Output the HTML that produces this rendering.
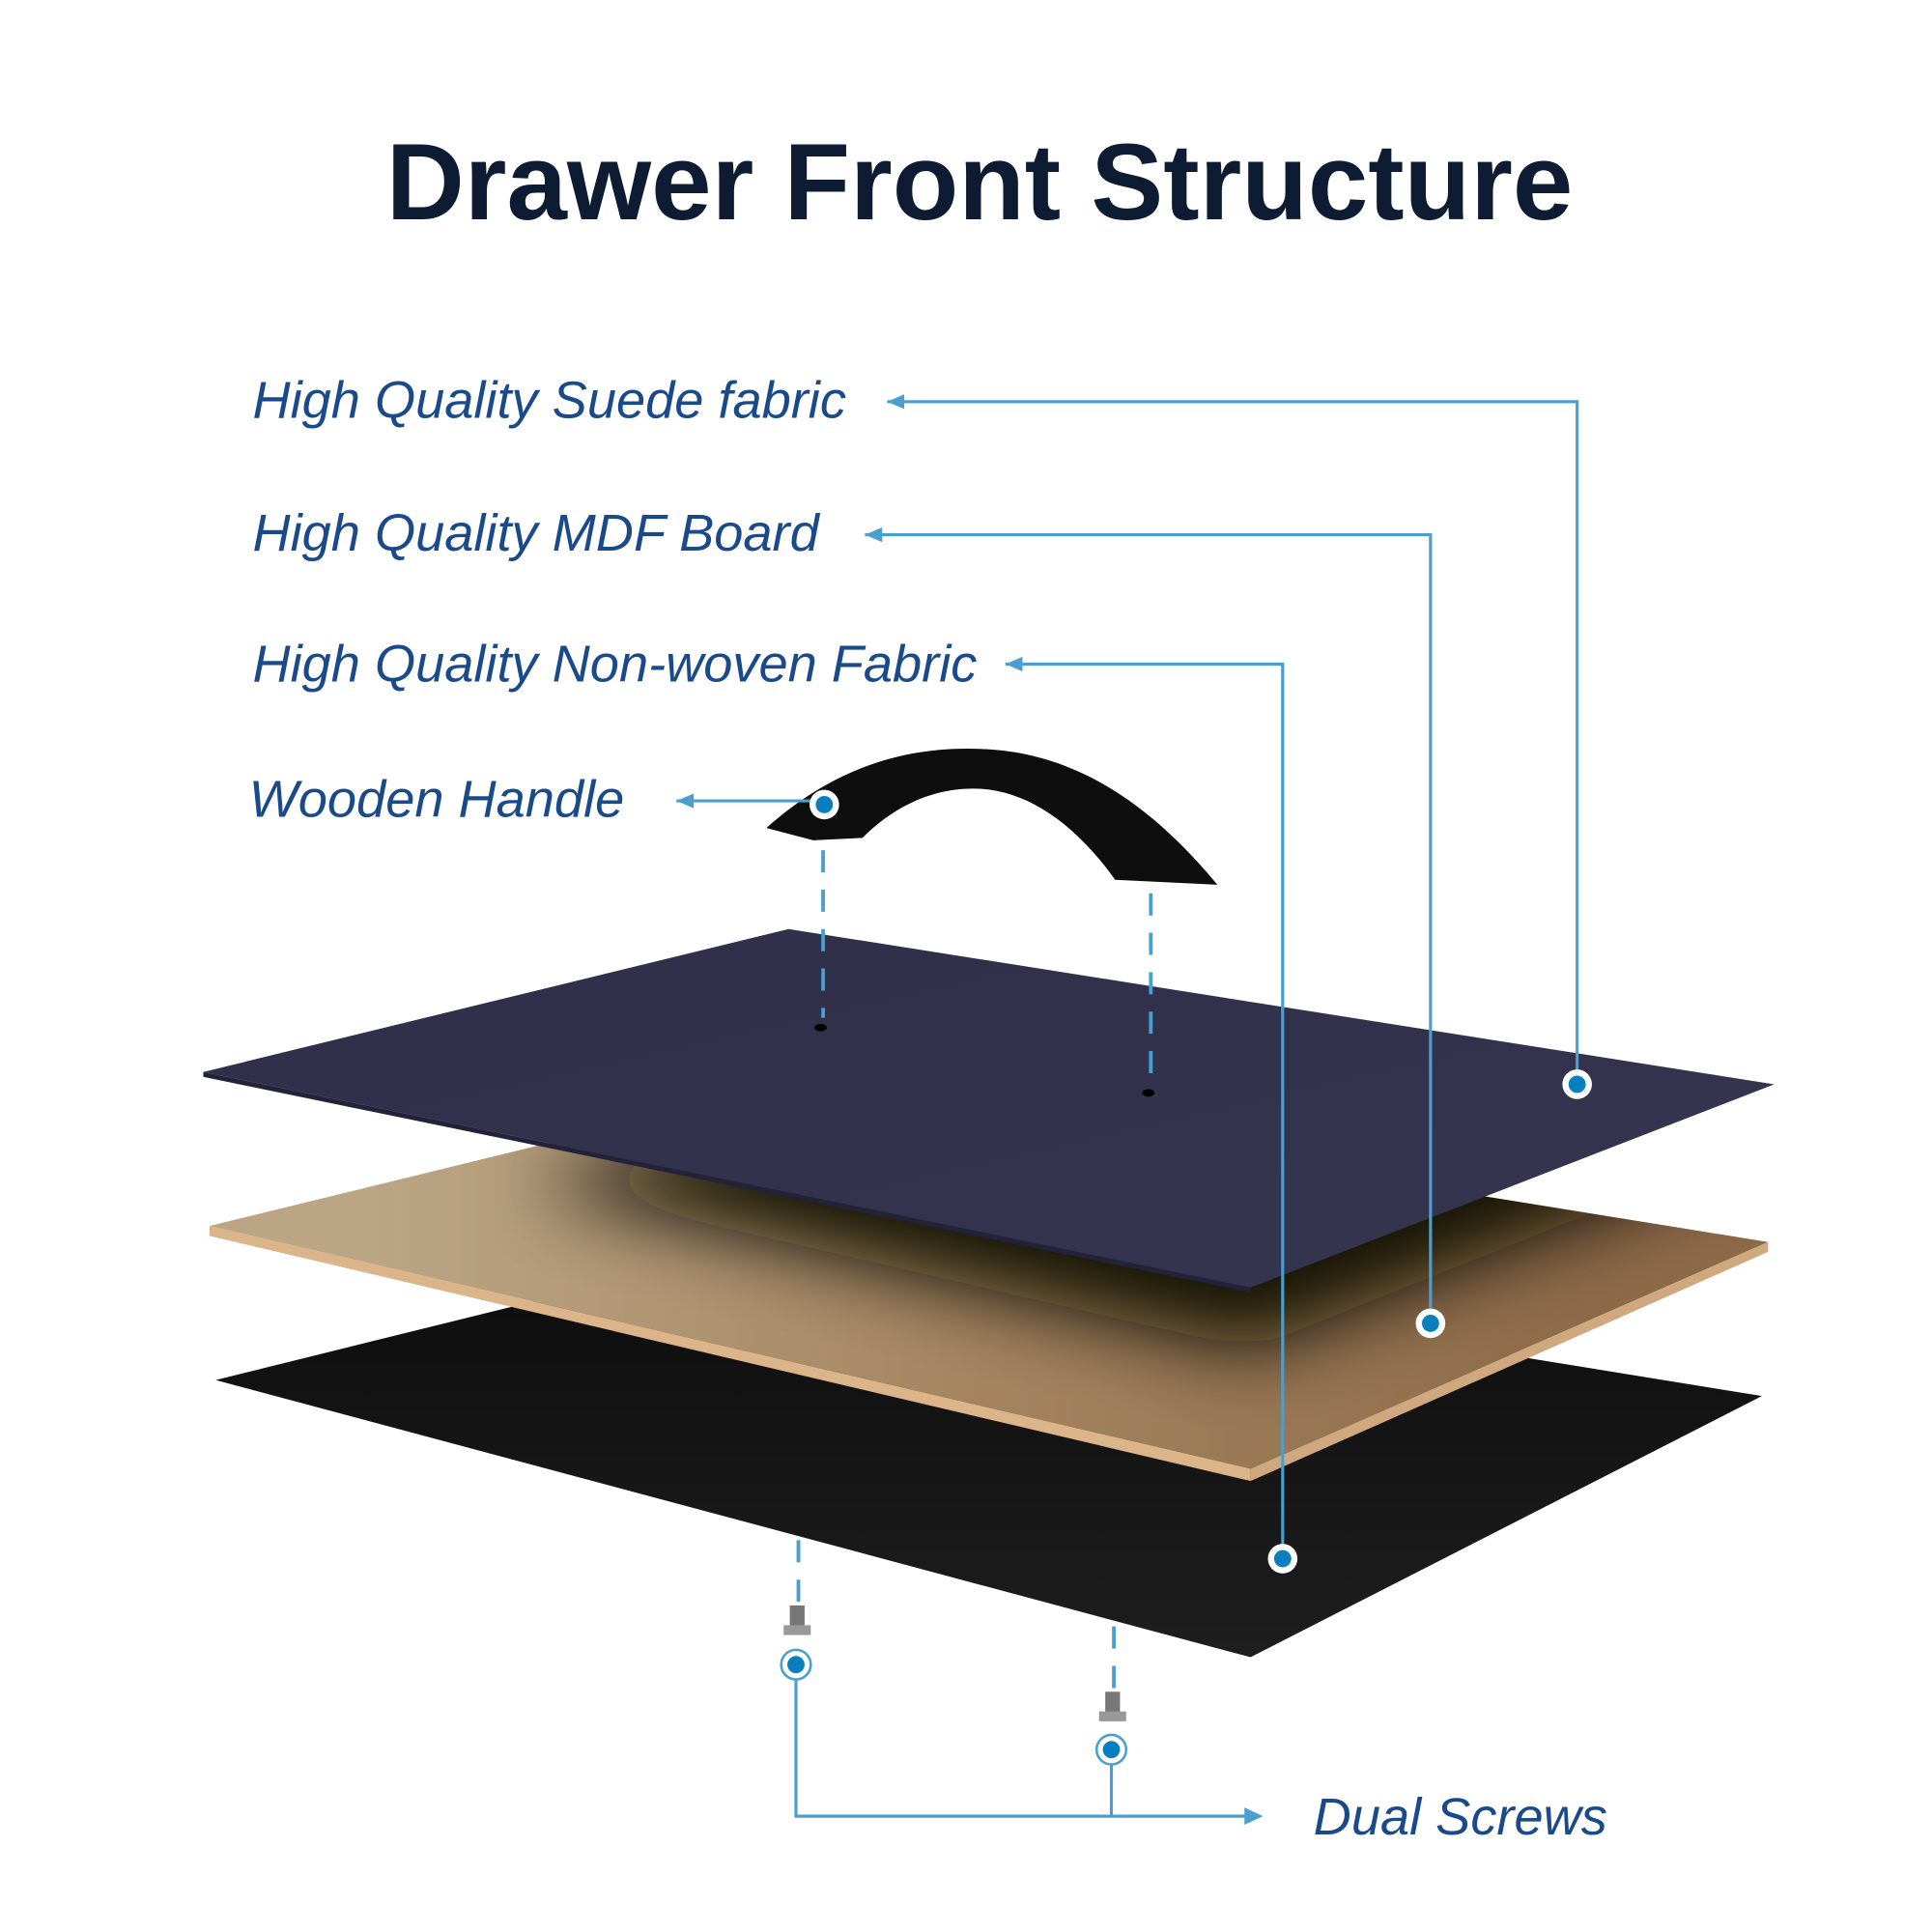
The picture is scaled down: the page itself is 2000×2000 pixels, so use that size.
<!DOCTYPE html>
<html><head><meta charset="utf-8"><style>
html,body{margin:0;padding:0;background:#fff}
svg{display:block}
</style></head><body>
<svg width="2000" height="2000" viewBox="0 0 1568 1568" xmlns="http://www.w3.org/2000/svg">
<defs>
<marker id="ar" markerWidth="14" markerHeight="12" refX="0" refY="6" orient="auto" markerUnits="userSpaceOnUse">
<path d="M0,6 L14,0 L14,12 Z" fill="#4a9fd0"/></marker>
<linearGradient id="mdfg" gradientUnits="userSpaceOnUse" x1="300" y1="0" x2="1300" y2="0">
<stop offset="0" stop-color="#bba585"/><stop offset="0.5" stop-color="#a4845f"/><stop offset="1" stop-color="#8c6a48"/></linearGradient>
<filter id="bl" x="-20%" y="-30%" width="140%" height="160%"><feGaussianBlur stdDeviation="32"/></filter>
<clipPath id="mclip"><polygon points="170,995 640,880 1435,1008 1015,1192"/></clipPath>
<linearGradient id="blk" x1="0" y1="0" x2="0" y2="1">
<stop offset="0" stop-color="#0c0c0c"/><stop offset="1" stop-color="#1e1e1e"/></linearGradient>
<linearGradient id="sue" x1="0" y1="0" x2="1" y2="1">
<stop offset="0" stop-color="#2e2e48"/><stop offset="1" stop-color="#363650"/></linearGradient>
</defs>
<rect width="1568" height="1568" fill="#fff"/>
<text x="795" y="178" text-anchor="middle" font-family="Liberation Sans, sans-serif" font-weight="bold" font-size="88" fill="#0d1b33">Drawer Front Structure</text>
<g font-family="Liberation Sans, sans-serif" font-style="italic" font-size="42.5" fill="#1a4a8a">
<text x="205" y="339">High Quality Suede fabric</text>
<text x="205" y="447">High Quality MDF Board</text>
<text x="205" y="553">High Quality Non-woven Fabric</text>
<text x="202" y="663">Wooden Handle</text>
<text x="1066" y="1489">Dual Screws</text>
</g>
<!-- layers -->
<polygon points="175,1120 640,1005 1430,1133 1015,1345" fill="url(#blk)"/>
<polygon points="170,995 640,880 1435,1008 1015,1192" fill="url(#mdfg)"/>
<g clip-path="url(#mclip)">
<polygon points="430,960 1015,1095 1440,925 900,820" fill="#0e0906" opacity="0.95" filter="url(#bl)"/>
</g>
<polygon points="170,995 1015,1192 1015,1202 170,1003" fill="#dcb489"/>
<polygon points="1015,1192 1435,1008 1435,1016 1015,1202" fill="#d0a880"/>
<polygon points="165,870 640,754 1440,880 1015,1045" fill="url(#sue)"/>
<polygon points="165,870 1015,1045 1015,1049 165,874" fill="#22223a"/>
<!-- handle -->
<path d="M622,672 C680,620 740,605 800,608 C880,612 940,660 988,718 L905,714 C870,665 830,640 790,640 C750,640 720,660 700,680 L660,682 Z" fill="#0e0e0e"/>
<!-- holes -->
<ellipse cx="666" cy="834" rx="5" ry="3" fill="#000"/>
<ellipse cx="932" cy="887" rx="5" ry="3" fill="#000"/>
<!-- dashed -->
<g stroke="#4a9fd0" stroke-width="3" stroke-dasharray="18,14" fill="none">
<line x1="668" y1="690" x2="668" y2="826"/>
<line x1="934" y1="725" x2="934" y2="880"/>
<line x1="648" y1="1250" x2="648" y2="1300"/>
<line x1="904" y1="1320" x2="904" y2="1370"/>
</g>
<!-- screws -->
<g fill="#777"><rect x="641" y="1303" width="12" height="18"/><rect x="636" y="1319" width="22" height="8" fill="#999"/>
<rect x="897" y="1373" width="12" height="18"/><rect x="892" y="1389" width="22" height="8" fill="#999"/></g>
<!-- leader lines -->
<g stroke="#4a9fd0" stroke-width="2.5" fill="none">
<polyline points="720,326 1280,326 1280,880" marker-start="url(#ar)"/>
<polyline points="702,434 1161,434 1161,1074" marker-start="url(#ar)"/>
<polyline points="816,539 1041,539 1041,1265" marker-start="url(#ar)"/>
<polyline points="549,650 668,650" marker-start="url(#ar)"/>
<polyline points="646,1351 646,1474 1012,1474"/>
<line x1="902" y1="1420" x2="902" y2="1474"/>
</g>
<path d="M1010,1467 L1025,1474 L1010,1481 Z" fill="#4a9fd0"/>
<!-- dots -->
<g>
<circle cx="1280" cy="880" r="12" fill="#fff"/><circle cx="1280" cy="880" r="7" fill="#0a7fc0"/>
<circle cx="1161" cy="1074" r="12" fill="#fff"/><circle cx="1161" cy="1074" r="7" fill="#0a7fc0"/>
<circle cx="1041" cy="1265" r="12" fill="#fff"/><circle cx="1041" cy="1265" r="7" fill="#0a7fc0"/>
<circle cx="669" cy="653" r="12" fill="#fff"/><circle cx="669" cy="653" r="7" fill="#0a7fc0"/>
<circle cx="646" cy="1351" r="12" fill="#fff" stroke="#4a9fd0" stroke-width="2"/><circle cx="646" cy="1351" r="7" fill="#0a7fc0"/>
<circle cx="902" cy="1420" r="12" fill="#fff" stroke="#4a9fd0" stroke-width="2"/><circle cx="902" cy="1420" r="7" fill="#0a7fc0"/>
</g>
</svg>
</body></html>
